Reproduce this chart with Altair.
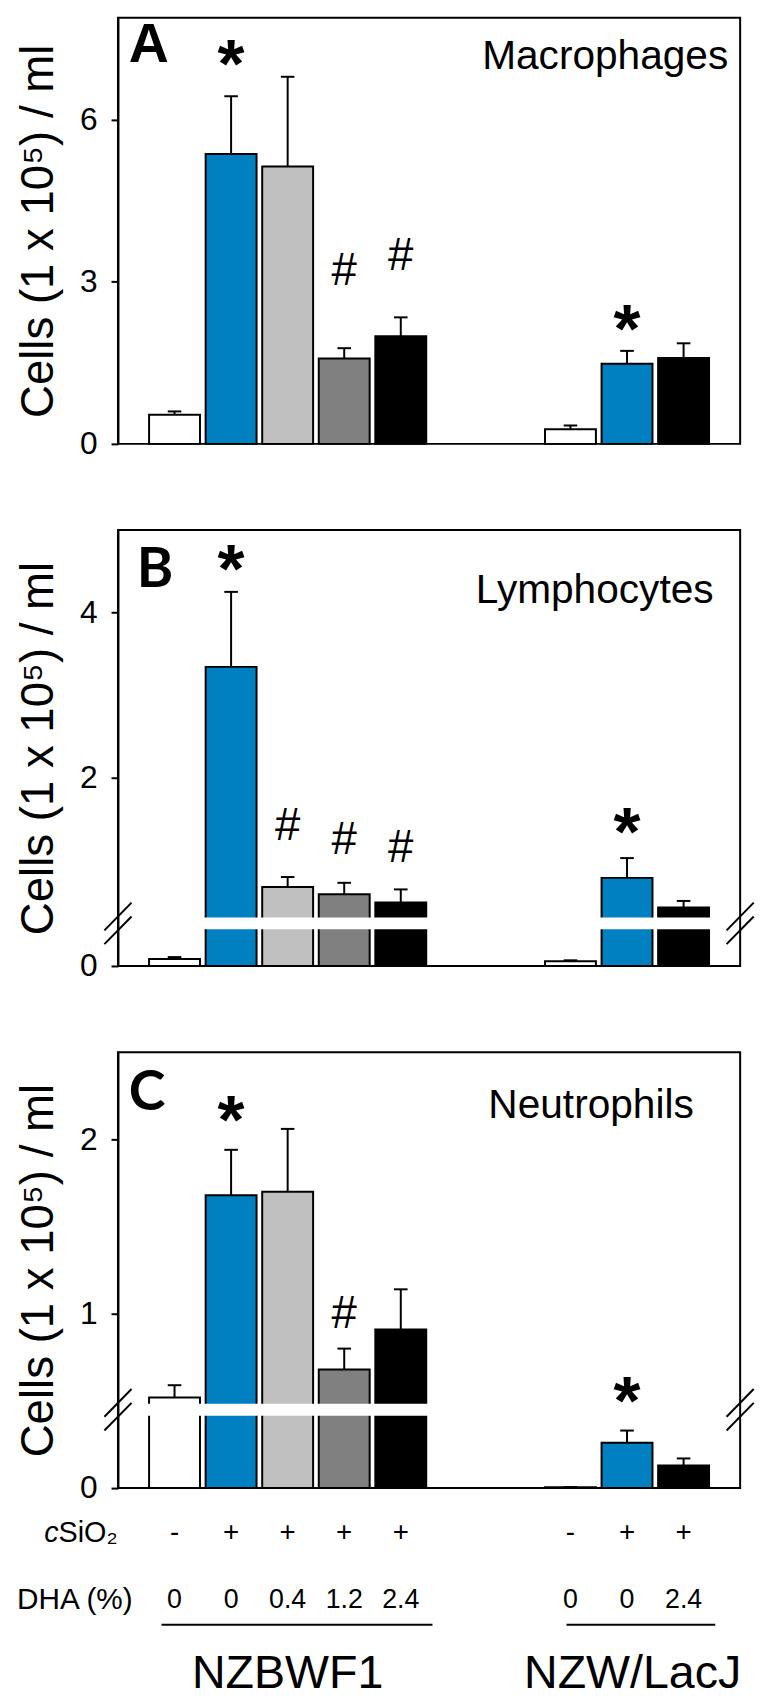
import altair as alt
import pandas as pd

# ------------------------------------------------------------------ data
slots = [1, 2, 3, 4, 5, 8, 9, 10]
fills = ["#FFFFFF", "#0080C0", "#C0C0C0", "#808080", "#000000",
         "#FFFFFF", "#0080C0", "#000000"]
sio2_signs = ["-", "+", "+", "+", "+", "-", "+", "+"]
dha_pct = ["0", "0", "0.4", "1.2", "2.4", "0", "0", "2.4"]
strain_names = ["NZBWF1", "NZW/LacJ"]
strain_centers = [3, 9.1]
strain_line_start = [0.77, 7.93]
strain_line_end = [5.56, 10.56]

# Macrophages (A)
mac_mean = [0.54, 5.36, 5.13, 1.58, 1.99, 0.27, 1.48, 1.59]
mac_top = [0.60, 6.43, 6.79, 1.77, 2.34, 0.34, 1.72, 1.86]
# Lymphocytes (B)
lym_mean = [0.043, 3.34, 0.67, 0.58, 0.48, 0.029, 0.78, 0.42]
lym_top = [0.055, 4.25, 0.79, 0.72, 0.64, 0.035, 1.02, 0.50]
# Neutrophils (C)
neu_mean = [0.52, 1.68, 1.70, 0.68, 0.91, 0.005, 0.26, 0.13]
neu_top = [0.59, 1.94, 2.06, 0.80, 1.14, 0.006, 0.33, 0.17]

# significance marks
mac_ann_slot = [2, 9, 4, 5]
mac_ann_sym = ["*", "*", "#", "#"]
mac_ann_y = [7.27, 2.38, 3.20, 3.47]
lym_ann_slot = [2, 9, 3, 4, 5]
lym_ann_sym = ["*", "*", "#", "#", "#"]
lym_ann_y = [4.69, 1.50, 1.41, 1.24, 1.14]
neu_ann_slot = [2, 9, 4]
neu_ann_sym = ["*", "*", "#"]
neu_ann_y = [2.19, 0.58, 1.00]

FONT = "Liberation Sans, Arial, sans-serif"
TITLE = "Cells (1  x  10\u2075) / ml"
W = 628
XS = alt.Scale(domain=[0, 11], nice=False, zero=False)


def rules(df, ys, ax, **kw):
    return alt.Chart(df).mark_rule(color="black", strokeWidth=2, **kw).encode(
        x=alt.X("x0:Q", scale=XS, axis=None), x2="x1:Q",
        y=alt.Y("y0:Q", scale=ys, axis=ax), y2="y1:Q")


def texts(df, ys, ax, **kw):
    return alt.Chart(df).mark_text(color="black", **kw).encode(
        x=alt.X("x:Q", scale=XS, axis=None),
        y=alt.Y("y:Q", scale=ys, axis=ax),
        text="t:N")


def panel(mean, top, ys, ticks, height, a_slot, a_sym, a_y,
          name, name_x, name_y, letter, letter_x, letter_y, letter_font,
          band=None, brk=None, extra=None):
    ax = alt.Axis(values=ticks, title=TITLE, grid=False)
    df = pd.DataFrame({"slot": slots, "fill": fills, "mean": mean, "top": top})
    base = alt.Chart(df).transform_calculate(
        x0="datum.slot - 0.45", x1="datum.slot + 0.45",
        c0="datum.slot - 0.12", c1="datum.slot + 0.12")
    bars = base.mark_bar(stroke="black", strokeWidth=2).encode(
        x=alt.X("x0:Q", scale=XS, axis=None), x2="x1:Q",
        y=alt.Y("mean:Q", scale=ys, axis=ax), y2=alt.datum(0),
        fill=alt.Fill("fill:N", scale=None))
    layers = [bars]
    if band is not None:
        layers.append(alt.Chart(pd.DataFrame(band)).mark_rect(color="white").encode(
            x=alt.X("x0:Q", scale=XS, axis=None), x2="x1:Q",
            y=alt.Y("y0:Q", scale=ys, axis=ax), y2="y1:Q"))
    err = base.mark_rule(color="black", strokeWidth=2).encode(
        x=alt.X("slot:Q", scale=XS, axis=None),
        y=alt.Y("mean:Q", scale=ys, axis=ax), y2="top:Q")
    cap = base.mark_rule(color="black", strokeWidth=2).encode(
        x=alt.X("c0:Q", scale=XS, axis=None), x2="c1:Q",
        y=alt.Y("top:Q", scale=ys, axis=ax))
    layers += [err, cap]
    if brk is not None:
        layers.append(rules(pd.DataFrame(brk), ys, ax))
    ann = pd.DataFrame({"x": a_slot, "t": a_sym, "y": a_y})
    layers.append(texts(ann[ann.t == "*"], ys, ax, font=FONT, fontSize=70,
                        fontWeight="bold", baseline="middle", dy=16))
    layers.append(texts(ann[ann.t == "#"], ys, ax, font=FONT, fontSize=46,
                        baseline="middle"))
    layers.append(texts(pd.DataFrame({"x": [name_x], "y": [name_y], "t": [name]}),
                        ys, ax, font=FONT, fontSize=41, align="right",
                        baseline="alphabetic"))
    layers.append(texts(pd.DataFrame({"x": [letter_x], "y": [letter_y], "t": [letter]}),
                        ys, ax, font=letter_font, fontSize=56, fontWeight="bold",
                        align="left", baseline="alphabetic"))
    if extra is not None:
        layers += [f(ys, ax) for f in extra]
    return alt.layer(*layers).properties(width=W, height=height)


# ---------------------------------------------------------------- panel A
ysA = alt.Scale(domain=[0, 7.88], nice=False, zero=False)
pA = panel(mac_mean, mac_top, ysA, [0, 3, 6], 430,
           mac_ann_slot, mac_ann_sym, mac_ann_y,
           "Macrophages", 10.79, 6.93, "A", 0.19, 7.06, FONT)

# ---------------------------------------------------------------- panel B
ysB = alt.Scale(domain=[0, 0.3, 5], range=[440, 391, 0], nice=False, zero=False)
bandB = {"x0": [0.5, 7.5], "x1": [5.5, 10.5], "y0": [0.227, 0.227], "y1": [0.3, 0.3]}
brkB = {"x0": [-0.24, -0.24, 10.76, 10.76], "x1": [0.24, 0.24, 11.24, 11.24],
        "y0": [0.135, 0.220, 0.135, 0.220], "y1": [0.312, 0.480, 0.312, 0.480]}
pB = panel(lym_mean, lym_top, ysB, [0, 2, 4], 440,
           lym_ann_slot, lym_ann_sym, lym_ann_y,
           "Lymphocytes", 10.53, 4.11, "B", 0.33, 4.31, "Lato, " + FONT,
           band=bandB, brk=brkB)

# ---------------------------------------------------------------- panel C
ysC = alt.Scale(domain=[0, 2.5], nice=False, zero=False)
bandC = {"x0": [0.5], "x1": [5.5], "y0": [0.415], "y1": [0.483]}
brkC = {"x0": [-0.24, -0.24, 10.76, 10.76], "x1": [0.24, 0.24, 11.24, 11.24],
        "y0": [0.330, 0.409, 0.330, 0.409], "y1": [0.489, 0.568, 0.489, 0.568]}
row_sio2 = -0.256
row_dha = -0.64
row_line = -0.784
row_strain = -1.068
extraC = [
    lambda ys, ax: texts(pd.DataFrame({"x": slots, "y": [row_sio2] * 8, "t": sio2_signs}),
                         ys, ax, font=FONT, fontSize=28, baseline="middle"),
    lambda ys, ax: texts(pd.DataFrame({"x": slots, "y": [row_dha] * 8, "t": dha_pct}),
                         ys, ax, font=FONT, fontSize=27, baseline="middle"),
    lambda ys, ax: texts(pd.DataFrame({"x": [-1.05], "y": [row_sio2], "t": ["c"]}),
                         ys, ax, font=FONT, fontSize=29, fontStyle="italic",
                         align="right", baseline="middle"),
    lambda ys, ax: texts(pd.DataFrame({"x": [-1.05], "y": [row_sio2], "t": ["SiO\u2082"]}),
                         ys, ax, font=FONT, fontSize=29, align="left", baseline="middle"),
    lambda ys, ax: texts(pd.DataFrame({"x": [0.26], "y": [row_dha], "t": ["DHA (%)"]}),
                         ys, ax, font=FONT, fontSize=30, align="right", baseline="middle"),
    lambda ys, ax: rules(pd.DataFrame({"x0": strain_line_start, "x1": strain_line_end,
                                       "y0": [row_line] * 2, "y1": [row_line] * 2}), ys, ax),
    lambda ys, ax: texts(pd.DataFrame({"x": strain_centers, "y": [row_strain] * 2,
                                       "t": strain_names}),
                         ys, ax, font=FONT, fontSize=47, baseline="middle"),
]
pC = panel(neu_mean, neu_top, ysC, [0, 1, 2], 440,
           neu_ann_slot, neu_ann_sym, neu_ann_y,
           "Neutrophils", 10.18, 2.125, "C", 0.19, 2.17, "Lato, " + FONT,
           band=bandC, brk=brkC, extra=extraC)

chart = alt.vconcat(
    pA, pB, pC, spacing=87, bounds="flush",
    padding={"left": 6, "top": 0, "right": 0, "bottom": 0},
).resolve_scale(
    x="independent", y="independent"
).configure_view(stroke="black", strokeWidth=2).configure_axis(
    labelFont=FONT, labelFontSize=32, labelColor="black",
    titleFont=FONT, titleFontSize=46, titleFontWeight="normal", titleColor="black",
    tickColor="black", tickWidth=2, tickSize=7, domainColor="black", domainWidth=2,
    labelPadding=14, titlePadding=17, grid=False)

chart.save("out.html", embed_options={"renderer": "svg", "actions": False})
